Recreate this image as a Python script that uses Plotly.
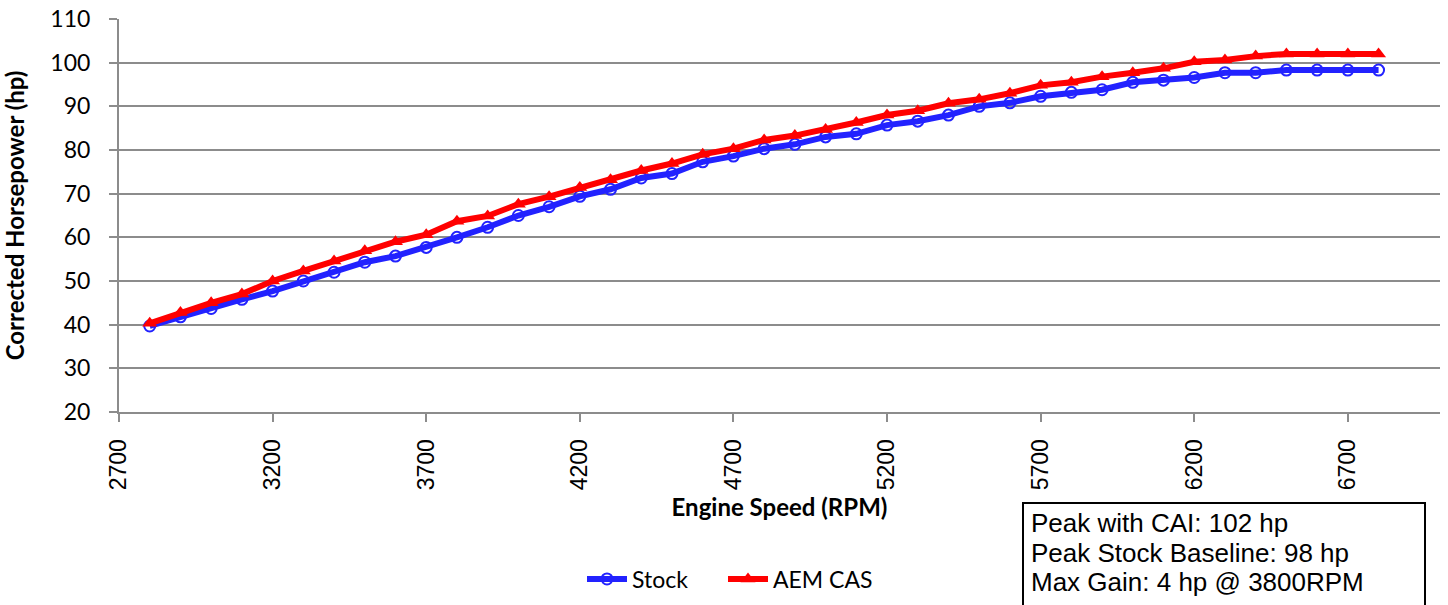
import plotly.graph_objects as go

rpm = list(range(2800, 6900, 100))
stock = [39.7, 41.8, 43.7, 45.8, 47.7, 50.0, 52.0, 54.3, 55.7, 57.7,
         60.0, 62.3, 65.0, 67.0, 69.4, 71.0, 73.6, 74.6, 77.3, 78.6,
         80.3, 81.3, 83.0, 83.7, 85.7, 86.6, 88.0, 90.0, 90.8, 92.3,
         93.2, 93.8, 95.5, 96.0, 96.6, 97.7, 97.7, 98.3, 98.3, 98.3, 98.3]
aem = [40.3, 42.8, 45.0, 47.0, 50.0, 52.3, 54.6, 56.9, 59.0, 60.6,
       63.7, 64.9, 67.6, 69.3, 71.4, 73.2, 75.3, 76.9, 79.0, 80.3,
       82.3, 83.3, 84.7, 86.3, 88.0, 89.0, 90.7, 91.6, 93.0, 94.8,
       95.5, 96.8, 97.7, 98.7, 100.2, 100.6, 101.5, 102.0, 102.0, 102.0, 102.0]
info_lines = ["Peak with CAI: 102 hp", "Peak Stock Baseline: 98 hp", "Max Gain: 4 hp @ 3800RPM"]

W, H = 1448, 605
L, T = 119, 19
R = W - 1440
B = H - 412
ph = H - T - B
pw = W - L - R

def py(pix):  # screen y -> paper
    return (H - B - pix) / ph

def px(pix):  # screen x -> paper
    return (pix - L) / pw

fig = go.Figure()
fig.add_trace(go.Scatter(x=rpm, y=stock, name="Stock", mode="lines+markers",
                         line=dict(color="#2222FF", width=6),
                         marker=dict(symbol="circle-open", size=11, color="#2222FF",
                                     line=dict(width=2, color="#2222FF")),
                         legend="legend"))
fig.add_trace(go.Scatter(x=rpm, y=aem, name="AEM CAS", mode="lines+markers",
                         line=dict(color="#FF0000", width=6),
                         marker=dict(symbol="triangle-up", size=13, color="#FF0000"),
                         legend="legend2"))

gridc = "#8C8C8C"
leg_common = dict(orientation="h", yanchor="middle", xanchor="left",
                  font=dict(family="Lato", size=23), itemwidth=40,
                  bgcolor="rgba(0,0,0,0)")
fig.update_layout(
    width=W, height=H,
    margin=dict(l=L, r=R, t=T, b=B, autoexpand=False),
    paper_bgcolor="white", plot_bgcolor="white",
    font=dict(family="Lato", color="black", size=19),
    showlegend=True,
    legend=dict(x=px(582), y=py(579), **leg_common),
    legend2=dict(x=px(723), y=py(579), **leg_common),
    xaxis=dict(range=[2700, 7000], tick0=2700, dtick=500, tickangle=-90,
               showgrid=False, showline=True, linecolor=gridc, linewidth=2,
               ticks="outside", ticklen=8, tickcolor=gridc, tickwidth=2,
               tickfont=dict(family="Liberation Sans", size=23), ticklabelstandoff=8,
               ticklabeloverflow="allow",
               title=dict(text="<b>Engine Speed (RPM)</b>", font=dict(family="Lato", size=24), standoff=10),
               zeroline=False),
    yaxis=dict(range=[20, 110], dtick=10, showgrid=True, gridcolor=gridc, gridwidth=2,
               showline=True, linecolor=gridc, linewidth=2,
               ticks="outside", ticklen=8, tickcolor=gridc, tickwidth=2,
               tickfont=dict(family="Lato", size=23), ticklabelstandoff=14,
               ticklabeloverflow="allow",
               title=dict(text="<b>Corrected Horsepower (hp)</b>", font=dict(family="Lato", size=24), standoff=21),
               zeroline=False),
)

fig.add_shape(type="rect", xref="paper", yref="paper",
              x0=px(1023), x1=px(1425), y0=py(640), y1=py(503),
              line=dict(color="black", width=2), fillcolor="white", layer="above")
for i, t in enumerate(info_lines):
    fig.add_annotation(text=t, xref="paper", yref="paper", x=px(1029), y=py(523 + 29.5 * i),
                       xanchor="left", yanchor="middle", showarrow=False,
                       font=dict(family="Liberation Sans", size=26, color="black"))

fig.write_html("out.html", config={"displayModeBar": False},
               post_script="document.body.style.margin='0';document.body.style.overflow='hidden';")
